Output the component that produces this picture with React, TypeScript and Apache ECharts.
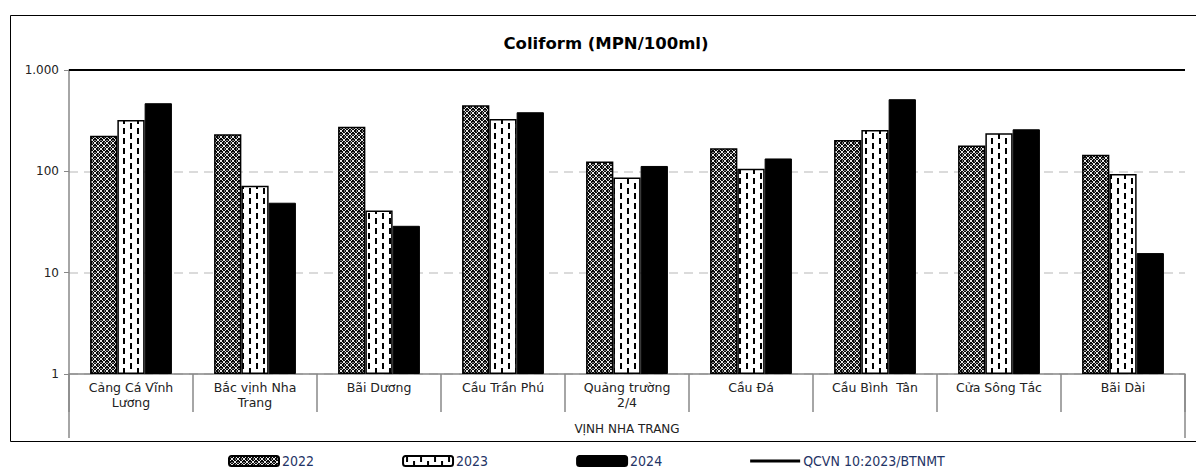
import React, { useEffect, useRef } from "react";
import * as echarts from "echarts";

const categories = [
  "Cảng Cá Vĩnh\nLương",
  "Bắc vịnh Nha\nTrang",
  "Bãi Dương",
  "Cầu Trần Phú",
  "Quảng trường\n2/4",
  "Cầu Đá",
  "Cầu Bình  Tân",
  "Cửa Sông Tắc",
  "Bãi Dài",
];
const groupLabel = ["VỊNH NHA TRANG"];
const values2022 = [225, 232, 276, 449, 125, 169, 204, 180, 146];
const values2023 = [321, 72, 41, 329, 87, 106, 256, 238, 94];
const values2024 = [470, 49, 29, 383, 113, 134, 515, 260, 15.6];
const qcvnLimit = 1000;
const seriesNames = ["2022", "2023", "2024", "QCVN 10:2023/BTNMT"];
const yTicks = [1, 10, 100, 1000];
const yTickLabels = ["1", "10", "100", "1.000"];

function makeCrossPattern(): HTMLCanvasElement {
  const c = document.createElement("canvas");
  c.width = 6;
  c.height = 6;
  const ctx = c.getContext("2d")!;
  ctx.fillStyle = "#0a0a0a";
  ctx.fillRect(0, 0, 6, 6);
  ctx.fillStyle = "#e8e8e8";
  for (let i = 0; i < 6; i++) {
    ctx.fillRect(i, i, 1, 1);
    ctx.fillRect(5 - i, i, 1, 1);
  }
  ctx.fillStyle = "#777";
  ctx.fillRect(0, 2, 1, 2);
  ctx.fillRect(2, 0, 2, 1);
  return c;
}

function makeDashPattern(): HTMLCanvasElement {
  const c = document.createElement("canvas");
  c.width = 14;
  c.height = 10;
  const ctx = c.getContext("2d")!;
  ctx.fillStyle = "#ffffff";
  ctx.fillRect(0, 0, 14, 10);
  ctx.fillStyle = "#000000";
  ctx.fillRect(3, 0, 2, 6);
  ctx.fillRect(10, 5, 2, 5);
  ctx.fillRect(10, 0, 2, 1);
  return c;
}

const catFont = "'DejaVu Sans', Verdana, sans-serif";
const legendFont = "'Liberation Sans Narrow', 'DejaVu Sans Condensed', 'Arial Narrow', sans-serif";

export default function App() {
  const ref = useRef<HTMLDivElement>(null);
  useEffect(() => {
    if (!ref.current) return;
    const chart = echarts.init(ref.current, undefined, { renderer: "svg" });
    const cross = makeCrossPattern();
    const dash = makeDashPattern();
    const option: any = {
      animation: false,
      backgroundColor: "#ffffff",
      title: {
        text: "Coliform (MPN/100ml)",
        left: "center",
        top: 22,
        textStyle: { fontFamily: catFont, fontSize: 16.5, fontWeight: "bold", color: "#000" },
      },
      graphic: [
        {
          type: "rect",
          left: 0,
          top: 5,
          shape: { width: 1210, height: 426 },
          style: { fill: "none", stroke: "#000", lineWidth: 1 },
          silent: true,
        },
      ],
      legend: {
        top: 446,
        left: 220,
        itemWidth: 50,
        itemHeight: 10,
        itemGap: 88,
        padding: 0,
        textStyle: { fontFamily: legendFont, fontSize: 14, color: "#1f3466", padding: [0, 0, 0, -2] },
        data: [
          { name: seriesNames[0] },
          { name: seriesNames[1] },
          { name: seriesNames[2] },
          { name: seriesNames[3], icon: "path://M0,0 L100,0 L100,6 L0,6 Z", symbolKeepAspect: true },
        ],
      },
      grid: { left: 61, right: 19, top: 62, bottom: 97, containLabel: false },
      xAxis: [
        {
          type: "category",
          data: categories,
          position: "bottom",
          axisLine: { show: true, lineStyle: { color: "#888", width: 1.5 } },
          axisTick: { show: true, length: 38, lineStyle: { color: "#888", width: 1.5 } },
          axisLabel: {
            interval: 0,
            margin: 6,
            fontFamily: catFont,
            fontSize: 12.5,
            lineHeight: 15,
            color: "#222",
          },
        },
        {
          type: "category",
          data: groupLabel,
          position: "bottom",
          axisLine: { show: false },
          axisTick: { show: true, length: 64, lineStyle: { color: "#888", width: 1.5 } },
          axisLabel: { margin: 49, fontFamily: catFont, fontSize: 12, color: "#222" },
        },
      ],
      yAxis: {
        type: "log",
        logBase: 10,
        min: 1,
        max: 1000,
        axisLine: { show: true, lineStyle: { color: "#888", width: 1.5 } },
        axisTick: { show: true, length: 5, lineStyle: { color: "#888" } },
        axisLabel: {
          margin: 10,
          fontFamily: catFont,
          fontSize: 12,
          color: "#222",
          formatter: (v: number) => {
            const i = yTicks.indexOf(Math.round(v));
            return i >= 0 ? yTickLabels[i] : String(v);
          },
        },
        splitLine: { show: true, lineStyle: { color: "#d0d0d0", type: [9, 6], width: 1.5 } },
      },
      series: [
        {
          name: seriesNames[0],
          type: "bar",
          data: values2022,
          barGap: "0%",
          barCategoryGap: "34%",
          itemStyle: {
            color: { image: cross, repeat: "repeat", imageWidth: 6, imageHeight: 6 },
            borderColor: "#000",
            borderWidth: 1.5,
          },
        },
        {
          name: seriesNames[1],
          type: "bar",
          data: values2023,
          barGap: "0%",
          barCategoryGap: "34%",
          itemStyle: {
            color: { image: dash, repeat: "repeat", imageWidth: 14, imageHeight: 10 },
            borderColor: "#000",
            borderWidth: 1.5,
          },
        },
        {
          name: seriesNames[2],
          type: "bar",
          data: values2024,
          barGap: "0%",
          barCategoryGap: "34%",
          itemStyle: { color: "#000", borderColor: "#000", borderWidth: 1 },
        },
        {
          name: seriesNames[3],
          type: "line",
          data: [],
          symbol: "none",
          lineStyle: { color: "#000", width: 3 },
          itemStyle: { color: "#000" },
          markLine: {
            silent: true,
            symbol: "none",
            label: { show: false },
            lineStyle: { color: "#000", width: 2, type: "solid" },
            data: [{ yAxis: qcvnLimit }],
          },
        },
      ],
    };
    chart.setOption(option);
    return () => chart.dispose();
  }, []);
  return <div ref={ref} style={{ width: 1196, height: 463 }} />;
}
